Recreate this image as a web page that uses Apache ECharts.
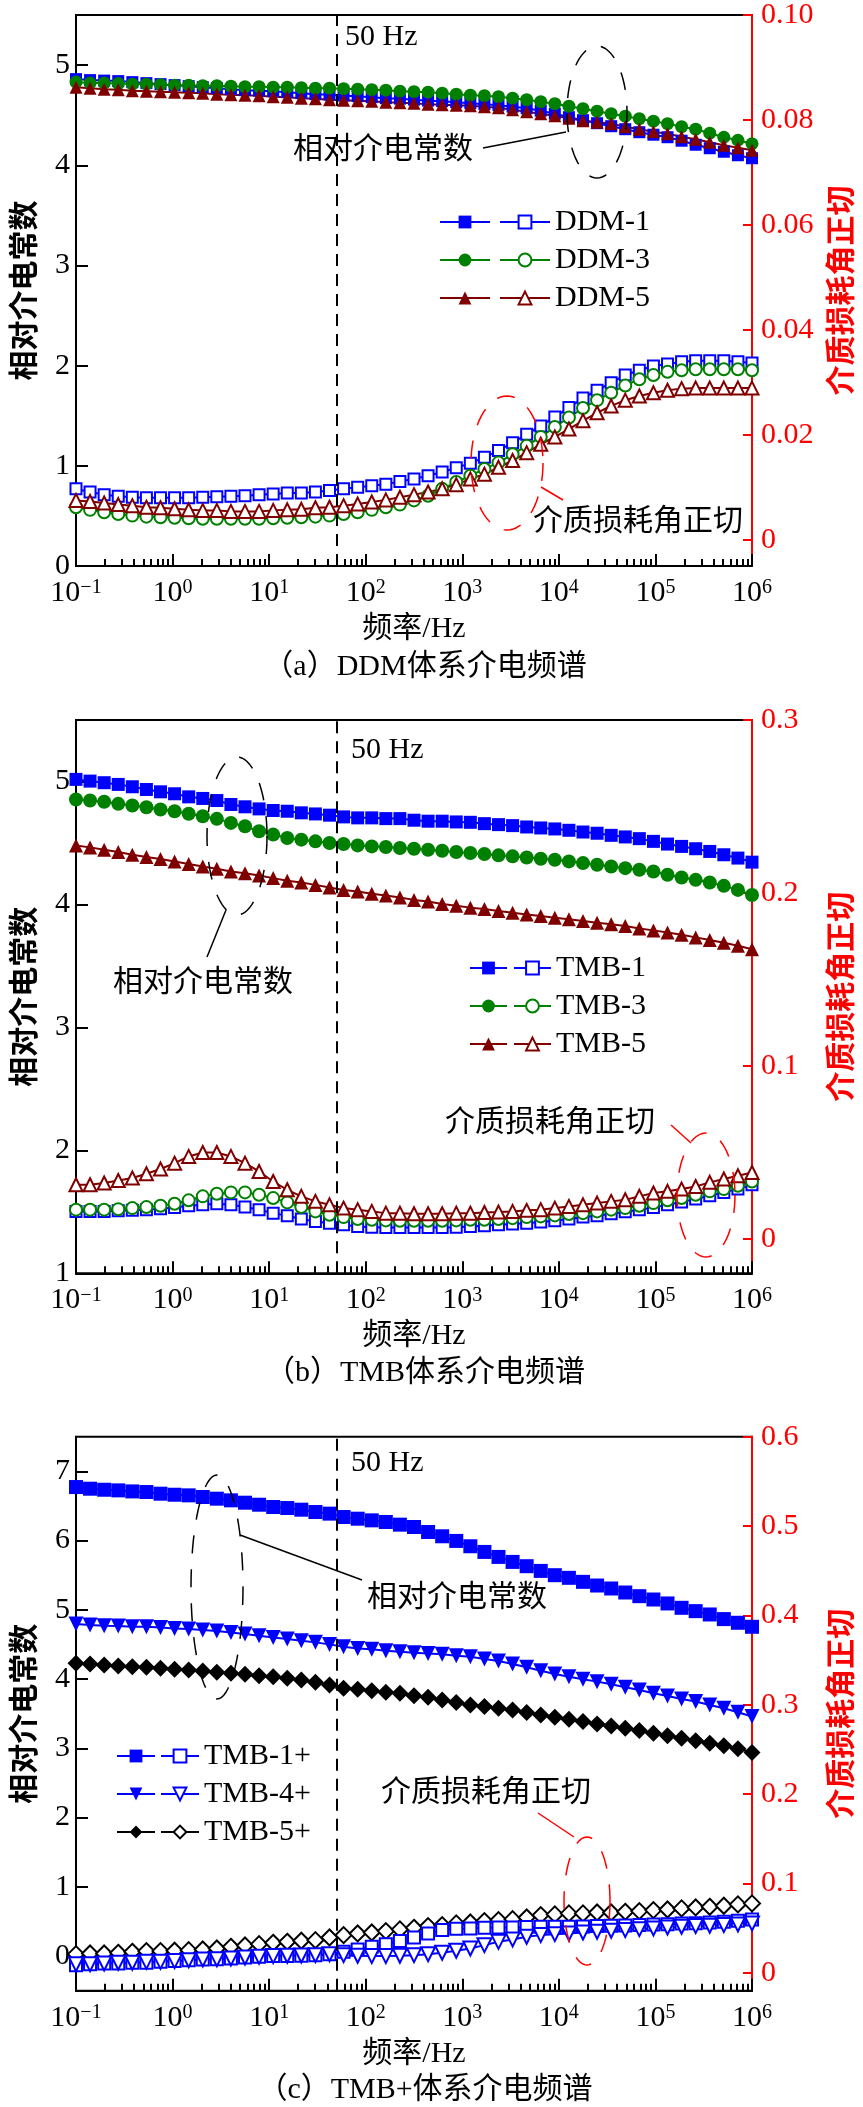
<!DOCTYPE html>
<html><head><meta charset="utf-8">
<script src="https://cdn.jsdelivr.net/npm/echarts@6/dist/echarts.min.js"></script>
<style>html,body{margin:0;padding:0;background:#fff}#c{width:863px;height:2107px}</style>
</head><body><div id="c"></div><script>
// ---------- data ----------
const freqHz = [0.1,0.1398,0.1957,0.2738,0.3831,0.536,0.7499,1.049,1.468,2.054,2.873,4.019,5.623,7.867,
  11.01,15.4,21.54,30.14,42.17,59.0,82.54,115.5,161.6,226.0,316.2,442.4,619.0,866.0,1212,1695,2371,3318,
  4642,6494,9085,12710,17780,24880,34810,48700,68130,95320,133400,186600,261000,365200,510900,714800,1000000];
const xMajorTicks = [0.1,1,10,100,1000,10000,100000,1000000];

// (a) DDM
const ddm1Eps = [4.86,4.85,4.845,4.84,4.83,4.82,4.81,4.80,4.79,4.78,4.77,4.76,4.75,4.745,4.74,4.73,4.72,4.71,4.705,4.695,4.69,4.68,4.67,4.665,4.655,4.645,4.64,4.63,4.62,4.61,4.60,4.585,4.57,4.545,4.515,4.48,4.45,4.42,4.39,4.36,4.33,4.305,4.28,4.245,4.205,4.17,4.135,4.10,4.07];
const ddm3Eps = [4.83,4.82,4.82,4.815,4.81,4.81,4.805,4.80,4.80,4.795,4.795,4.79,4.785,4.785,4.78,4.78,4.775,4.77,4.77,4.765,4.76,4.755,4.75,4.74,4.735,4.73,4.72,4.71,4.70,4.695,4.685,4.67,4.655,4.635,4.615,4.59,4.565,4.54,4.515,4.49,4.465,4.44,4.415,4.385,4.36,4.32,4.28,4.25,4.215];
const ddm5Eps = [4.78,4.77,4.76,4.755,4.745,4.74,4.735,4.73,4.725,4.72,4.71,4.705,4.70,4.695,4.685,4.68,4.67,4.665,4.655,4.65,4.645,4.64,4.63,4.625,4.62,4.61,4.605,4.60,4.595,4.585,4.575,4.555,4.535,4.515,4.495,4.47,4.445,4.43,4.415,4.385,4.36,4.335,4.315,4.285,4.26,4.23,4.20,4.175,4.15];
const ddm1Tan = [0.0097,0.0091,0.0086,0.0083,0.0081,0.0080,0.0080,0.0080,0.0080,0.0081,0.0082,0.0083,0.0084,0.0086,0.0087,0.0089,0.0089,0.0091,0.0094,0.0097,0.0100,0.0103,0.0106,0.0111,0.0116,0.0122,0.0129,0.0137,0.0146,0.0157,0.0170,0.0185,0.0201,0.0217,0.0234,0.0252,0.0270,0.0285,0.0299,0.0314,0.0323,0.0331,0.0335,0.0339,0.0341,0.0341,0.0341,0.0339,0.0337];
const ddm3Tan = [0.0062,0.0057,0.00525,0.0049,0.0046,0.0044,0.0043,0.0042,0.0041,0.0040,0.0040,0.0040,0.0040,0.0040,0.0041,0.0042,0.0043,0.0044,0.0046,0.0049,0.00525,0.0057,0.0062,0.0067,0.0075,0.0084,0.0097,0.0110,0.0122,0.0135,0.0147,0.0163,0.0179,0.0196,0.0215,0.0233,0.0251,0.0266,0.0280,0.0294,0.0306,0.0314,0.0320,0.0323,0.0325,0.0325,0.0325,0.0325,0.0323];
const ddm5Tan = [0.0075,0.0073,0.0070,0.0067,0.0065,0.0062,0.0061,0.0059,0.0057,0.0056,0.0056,0.0054,0.0054,0.0054,0.0056,0.0057,0.0058,0.0061,0.0062,0.0065,0.0068,0.0072,0.0076,0.0081,0.0086,0.0091,0.0097,0.0105,0.0116,0.0125,0.0138,0.0151,0.0166,0.0182,0.0196,0.0211,0.0227,0.0242,0.0255,0.0266,0.0274,0.0280,0.0285,0.0288,0.0289,0.0289,0.0289,0.0289,0.0289];

// (b) TMB
const tmb1Eps = [5.017,5.003,4.990,4.976,4.957,4.935,4.916,4.900,4.875,4.862,4.845,4.813,4.794,4.777,4.764,4.758,4.745,4.736,4.726,4.712,4.704,4.704,4.698,4.698,4.685,4.677,4.677,4.671,4.668,4.657,4.649,4.641,4.630,4.622,4.614,4.603,4.589,4.579,4.562,4.549,4.535,4.513,4.491,4.472,4.453,4.431,4.404,4.377,4.344];
const tmb3Eps = [4.854,4.845,4.835,4.818,4.805,4.791,4.772,4.758,4.737,4.717,4.696,4.663,4.636,4.595,4.568,4.540,4.527,4.513,4.500,4.491,4.480,4.472,4.467,4.459,4.453,4.445,4.437,4.426,4.418,4.410,4.399,4.391,4.382,4.372,4.363,4.350,4.336,4.323,4.309,4.295,4.282,4.268,4.241,4.219,4.200,4.178,4.151,4.118,4.077];
const tmb5Eps = [4.480,4.464,4.445,4.426,4.404,4.385,4.369,4.350,4.328,4.309,4.290,4.268,4.254,4.235,4.214,4.192,4.178,4.159,4.137,4.118,4.105,4.086,4.072,4.056,4.037,4.023,4.004,3.990,3.974,3.963,3.947,3.933,3.919,3.906,3.892,3.879,3.865,3.851,3.838,3.824,3.805,3.789,3.772,3.753,3.732,3.710,3.688,3.664,3.636];
const tmb1Tan = [0.0158,0.0158,0.0158,0.0162,0.0164,0.0168,0.0173,0.0181,0.0191,0.0196,0.0202,0.0196,0.0183,0.0168,0.0148,0.0133,0.0114,0.0100,0.0090,0.0081,0.0071,0.0067,0.0065,0.0065,0.0065,0.0065,0.0065,0.0067,0.0071,0.0075,0.0081,0.0085,0.0090,0.0096,0.0104,0.0114,0.0125,0.0133,0.0144,0.0156,0.0168,0.0181,0.0196,0.0212,0.0229,0.0249,0.0268,0.0287,0.0312];
const tmb3Tan = [0.0168,0.0168,0.0168,0.0171,0.0177,0.0183,0.0191,0.0202,0.0222,0.0245,0.0260,0.0268,0.0268,0.0254,0.0235,0.0210,0.0183,0.0158,0.0139,0.0125,0.0114,0.0110,0.0106,0.0104,0.0104,0.0104,0.0104,0.0106,0.0110,0.0110,0.0114,0.0119,0.0125,0.0129,0.0135,0.0143,0.0148,0.0158,0.0168,0.0177,0.0191,0.0206,0.0222,0.0235,0.0254,0.0274,0.0287,0.0306,0.0331];
const tmb5Tan = [0.0312,0.0312,0.0322,0.0337,0.0351,0.0376,0.0403,0.0437,0.0476,0.0499,0.0499,0.0476,0.0437,0.0389,0.0331,0.0283,0.0245,0.0216,0.0196,0.0177,0.0168,0.0158,0.0148,0.0148,0.0144,0.0144,0.0144,0.0148,0.0148,0.0152,0.0154,0.0158,0.0164,0.0168,0.0177,0.0187,0.0196,0.0206,0.0216,0.0225,0.0245,0.0264,0.0274,0.0287,0.0302,0.0326,0.0345,0.0364,0.0383];

// (c) TMB+
const tmbp1Eps = [6.773,6.749,6.734,6.725,6.710,6.701,6.677,6.662,6.653,6.629,6.605,6.581,6.547,6.518,6.485,6.470,6.446,6.413,6.389,6.340,6.316,6.292,6.268,6.230,6.196,6.124,6.062,5.995,5.918,5.836,5.764,5.692,5.630,5.562,5.500,5.462,5.404,5.351,5.308,5.250,5.197,5.149,5.092,5.029,4.981,4.933,4.866,4.813,4.755];
const tmbp4Eps = [4.794,4.780,4.770,4.765,4.755,4.755,4.746,4.731,4.722,4.707,4.693,4.674,4.650,4.626,4.602,4.578,4.554,4.530,4.501,4.467,4.443,4.429,4.410,4.395,4.381,4.371,4.357,4.338,4.323,4.290,4.261,4.218,4.170,4.121,4.073,4.035,3.997,3.963,3.925,3.881,3.843,3.795,3.756,3.713,3.675,3.627,3.579,3.521,3.459];
const tmbp5Eps = [4.227,4.218,4.203,4.189,4.179,4.170,4.155,4.141,4.131,4.117,4.097,4.083,4.069,4.049,4.035,4.011,3.987,3.953,3.915,3.867,3.852,3.833,3.809,3.795,3.761,3.737,3.699,3.660,3.627,3.603,3.579,3.555,3.516,3.483,3.449,3.420,3.387,3.353,3.324,3.291,3.257,3.219,3.180,3.146,3.108,3.074,3.036,2.993,2.940];
const tmbp1Tan = [0.0086,0.0097,0.0105,0.0105,0.0112,0.0112,0.0123,0.0131,0.0142,0.0150,0.0153,0.0161,0.0172,0.0179,0.0187,0.0187,0.0191,0.0198,0.0209,0.0235,0.0262,0.0291,0.0321,0.0355,0.0396,0.0441,0.0478,0.0493,0.0497,0.0504,0.0508,0.0508,0.0512,0.0515,0.0515,0.0515,0.0519,0.0523,0.0527,0.0530,0.0534,0.0542,0.0545,0.0553,0.0556,0.0564,0.0571,0.0583,0.0598];
const tmbp4Tan = [0.0097,0.0097,0.0105,0.0112,0.0112,0.0123,0.0123,0.0131,0.0142,0.0150,0.0153,0.0161,0.0172,0.0179,0.0187,0.0191,0.0194,0.0198,0.0209,0.0198,0.0191,0.0187,0.0187,0.0191,0.0198,0.0209,0.0224,0.0247,0.0273,0.0310,0.0347,0.0374,0.0403,0.0422,0.0433,0.0441,0.0452,0.0459,0.0471,0.0478,0.0489,0.0497,0.0508,0.0515,0.0523,0.0527,0.0534,0.0542,0.0553];
const tmbp5Tan = [0.0209,0.0217,0.0217,0.0224,0.0235,0.0243,0.0243,0.0247,0.0254,0.0262,0.0273,0.0291,0.0306,0.0321,0.0336,0.0347,0.0359,0.0366,0.0396,0.0422,0.0441,0.0452,0.0467,0.0486,0.0504,0.0523,0.0534,0.0553,0.0564,0.0579,0.0590,0.0601,0.0620,0.0646,0.0654,0.0665,0.0665,0.0676,0.0676,0.0683,0.0691,0.0702,0.0709,0.0721,0.0732,0.0739,0.0751,0.0766,0.0777];

// axis tick labels
const yLeftTicks = [[0,1,2,3,4,5],[1,2,3,4,5],[0,1,2,3,4,5,6,7]];
const yRightTicks = [[0,0.02,0.04,0.06,0.08,0.10],[0,0.1,0.2,0.3],[0,0.1,0.2,0.3,0.4,0.5,0.6]];
const captions = ['（a）DDM体系介电频谱','（b）TMB体系介电频谱','（c）TMB+体系介电频谱'];
const legendNames = [['DDM-1','DDM-3','DDM-5'],['TMB-1','TMB-3','TMB-5'],['TMB-1+','TMB-4+','TMB-5+']];

// ---------- layout ----------
const SERIF = '"Liberation Serif","Noto Sans CJK SC",serif';
const CJK = '"Noto Sans CJK SC",sans-serif';
const BLUE='#0000FF', GREEN='#008000', DRED='#800000', BLACK='#000000', RED='#FF0000';
const grids = [
  {left:74.5, top:12.7, width:687.5, height:553.3},
  {left:74.5, top:720, width:687.5, height:553.3},
  {left:74.5, top:1436.7, width:687.5, height:554}
];
const yLeftRange = [[0,5.5],[1,5.5],[-0.5,7.5]];
const yRightRange = [[-0.005,0.1],[-0.02,0.3],[-0.02,0.6]];
const rightFmt = [v => v===0?'0':v.toFixed(2), v => v===0?'0':v.toFixed(1), v => v===0?'0':v.toFixed(1)];

const minorTicks = [];
xMajorTicks.slice(0,-1).forEach(d => { for (let m=2;m<=9;m++) minorTicks.push(+(d*m).toPrecision(6)); });

const xAxes = [], yAxes = [];
grids.forEach((g,i) => {
  xAxes.push({
    type:'log', logBase:10, gridIndex:i, min:0.1, max:1e6, position:'bottom',
    axisLine:{onZero:false, lineStyle:{color:BLACK,width:2}},
    axisTick:{show:true,inside:true,length:12,lineStyle:{color:BLACK,width:2},customValues:xMajorTicks},
    axisLabel:{customValues:xMajorTicks, margin:12, color:BLACK, fontFamily:SERIF, fontSize:30,
      formatter: v => { const e=Math.round(Math.log10(v)); return '10{s|'+(e<0?'\u2212'+(-e):e)+'}'; },
      rich:{s:{fontSize:20, fontFamily:SERIF, verticalAlign:'top', lineHeight:16, color:BLACK}}},
    splitLine:{show:false},
    name:'频率/Hz', nameLocation:'middle', nameGap:48,
    nameTextStyle:{fontSize:30, fontFamily:SERIF, color:BLACK}
  });
  xAxes.push({
    type:'log', logBase:10, gridIndex:i, min:0.1, max:1e6, position:'bottom',
    axisLine:{show:false, onZero:false},
    axisTick:{show:true,inside:true,length:7,lineStyle:{color:BLACK,width:2},customValues:minorTicks},
    axisLabel:{show:false}, splitLine:{show:false}
  });
  yAxes.push({
    type:'value', gridIndex:i, position:'left', min:yLeftRange[i][0], max:yLeftRange[i][1],
    axisLine:{show:true,onZero:false,lineStyle:{color:BLACK,width:2}},
    axisTick:{show:true,inside:true,length:12,lineStyle:{color:BLACK,width:2},customValues:yLeftTicks[i]},
    axisLabel:{customValues:yLeftTicks[i], margin:6, color:BLACK, fontFamily:SERIF, fontSize:30},
    splitLine:{show:false},
    name:'相对介电常数', nameLocation:'middle', nameRotate:90, nameGap:38,
    nameTextStyle:{fontSize:30, fontFamily:CJK, fontWeight:'bold', color:BLACK}
  });
  yAxes.push({
    type:'value', gridIndex:i, position:'right', min:yRightRange[i][0], max:yRightRange[i][1],
    axisLine:{show:true,onZero:false,lineStyle:{color:RED,width:2}},
    axisTick:{show:true,inside:true,length:9,lineStyle:{color:RED,width:2},customValues:yRightTicks[i]},
    axisLabel:{customValues:yRightTicks[i], margin:9, color:RED, fontFamily:SERIF, fontSize:30, formatter:rightFmt[i]},
    splitLine:{show:false},
    name:'介质损耗角正切', nameLocation:'middle', nameRotate:90, nameGap:73,
    nameTextStyle:{fontSize:30, fontFamily:CJK, fontWeight:'bold', color:RED}
  });
});

const series = [];
function mk(name, vals, gi, right, color, symbol, size, hollow, rotate) {
  const s = {
    type:'line', name, xAxisIndex:2*gi, yAxisIndex:2*gi+(right?1:0),
    data: vals.map((v,k) => [freqHz[k], v]),
    symbol, symbolSize:size, symbolRotate:rotate||0, showSymbol:true, showAllSymbol:true,
    lineStyle:{color, width:2}, itemStyle:{color, borderColor:color, borderWidth:hollow?2:0},
    emphasis:{disabled:true}, animation:false
  };
  series.push(s); return s;
}
// dashed 50 Hz line on first series of each panel
function mark50(s) {
  s.markLine = {silent:true, symbol:'none', label:{show:false}, animation:false,
    lineStyle:{color:BLACK, width:2, type:[12,8]}, data:[{xAxis:50}]};
}
// (a)
mark50(mk('tan DDM-1', ddm1Tan, 0, true, BLUE, 'emptyRect', 11, true));
mk('tan DDM-3', ddm3Tan, 0, true, GREEN, 'emptyCircle', 12, true);
mk('tan DDM-5', ddm5Tan, 0, true, DRED, 'emptyTriangle', 13, true);
mk('DDM-1', ddm1Eps, 0, false, BLUE, 'rect', 12);
mk('DDM-3', ddm3Eps, 0, false, GREEN, 'circle', 13);
mk('DDM-5', ddm5Eps, 0, false, DRED, 'triangle', 13);
// (b)
mark50(mk('tan TMB-1', tmb1Tan, 1, true, BLUE, 'emptyRect', 11, true));
mk('tan TMB-3', tmb3Tan, 1, true, GREEN, 'emptyCircle', 12, true);
mk('tan TMB-5', tmb5Tan, 1, true, DRED, 'emptyTriangle', 13, true);
mk('TMB-1', tmb1Eps, 1, false, BLUE, 'rect', 13);
mk('TMB-3', tmb3Eps, 1, false, GREEN, 'circle', 14);
mk('TMB-5', tmb5Eps, 1, false, DRED, 'triangle', 14);
// (c)
mark50(mk('tan TMB-5+', tmbp5Tan, 2, true, BLACK, 'emptyDiamond', 16, true));
mk('tan TMB-1+', tmbp1Tan, 2, true, BLUE, 'emptyRect', 12, true);
mk('tan TMB-4+', tmbp4Tan, 2, true, BLUE, 'emptyTriangle', 14, true, 180);
mk('TMB-1+', tmbp1Eps, 2, false, BLUE, 'rect', 14);
mk('TMB-4+', tmbp4Eps, 2, false, BLUE, 'triangle', 15, false, 180);
mk('TMB-5+', tmbp5Eps, 2, false, BLACK, 'diamond', 17);

// legends: filled icons (no text) + hollow icons with text
const legendPos = [
  {fl:439, hl:499, top:207, w:50},
  {fl:469, hl:513, top:953, w:37},
  {fl:116, hl:160, top:1741, w:38}
];
const legends = [];
legendPos.forEach((p,i) => {
  const common = {orient:'vertical', top:p.top, itemWidth:p.w, itemHeight:16, itemGap:8, selectedMode:false,
    padding:0, textStyle:{fontSize:30, lineHeight:30, fontFamily:SERIF, color:BLACK}};
  legends.push(Object.assign({}, common, {left:p.fl, data:legendNames[i], formatter:() => ' '}));
  legends.push(Object.assign({}, common, {left:p.hl, data:legendNames[i].map(n => 'tan '+n), formatter:n => n.replace('tan ','')}));
});

// annotations
const graphic = [];
function txt(x, y, text, color, align) {
  graphic.push({type:'text', x, y, silent:true, z:100,
    style:{text, fontSize:30, fontFamily:SERIF, fill:color||BLACK, align:align||'left', verticalAlign:'middle'}});
}
function ln(x1,y1,x2,y2,color) {
  graphic.push({type:'line', silent:true, z:100, shape:{x1,y1,x2,y2}, style:{stroke:color||BLACK, lineWidth:1.5}});
}
function ell(cx, cy, rx, ry, color) {
  const pts = [];
  for (let a=0; a<=72; a++) { const t=a/72*2*Math.PI; pts.push([cx+rx*Math.cos(t), cy+ry*Math.sin(t)]); }
  graphic.push({type:'polyline', silent:true, z:100, shape:{points:pts},
    style:{stroke:color||BLACK, lineWidth:1.5, lineDash:[18,16], fill:null}});
}
// 50 Hz labels
txt(345, 37, '50 Hz'); txt(351, 750, '50 Hz'); txt(351, 1463, '50 Hz');
// captions
txt(425, 667, captions[0], BLACK, 'center');
txt(425, 1373, captions[1], BLACK, 'center');
txt(425, 2090, captions[2], BLACK, 'center');
// (a)
txt(293, 150, '相对介电常数'); ln(483,148,566,132); ell(597,112,30,66);
txt(533, 522, '介质损耗角正切'); ln(541,487,563,500,RED); ell(507,463,36,67,RED);
// (b)
txt(113, 983, '相对介电常数'); ln(207,957,226,910); ell(237,836,30,79);
txt(445, 1123, '介质损耗角正切'); ln(671,1125,691,1143,RED); ell(706,1195,29,62,RED);
// (c)
txt(367, 1598, '相对介电常数'); ln(362,1580,240,1535); ell(217,1587,26,112);
txt(381, 1793, '介质损耗角正切'); ln(538,1813,574,1837,RED); ell(587,1901,23,64,RED);

const chart = echarts.init(document.getElementById('c'), null, {renderer:'canvas'});
chart.setOption({
  animation:false, backgroundColor:'#fff',
  textStyle:{fontFamily:SERIF},
  grid: grids.map(g => Object.assign({show:true, borderColor:BLACK, borderWidth:2}, g)),
  xAxis: xAxes, yAxis: yAxes, legend: legends, series, graphic
});
</script></body></html>
